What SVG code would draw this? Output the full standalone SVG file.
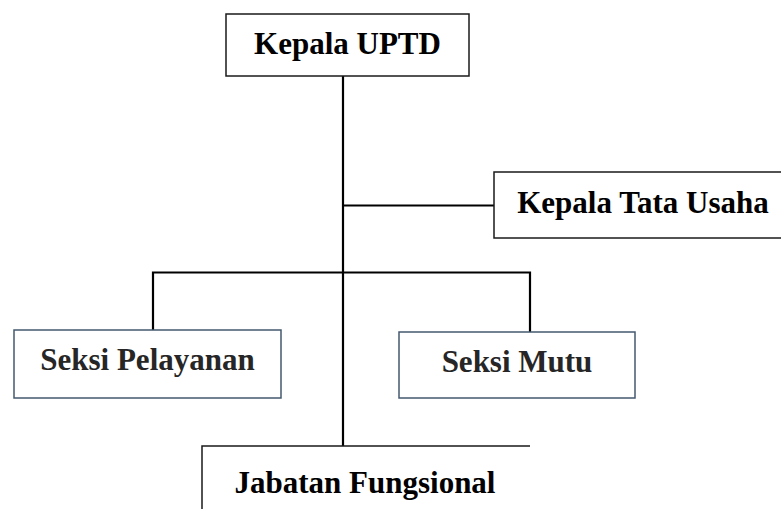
<svg xmlns="http://www.w3.org/2000/svg" width="781" height="509" viewBox="0 0 781 509">
<style>
.box{fill:#fff;stroke:#1a1a1a;stroke-width:1.5}
.sbox{fill:#fff;stroke:#44596f;stroke-width:1.5}
.t{font-family:"Liberation Serif","Times New Roman",serif;font-weight:bold;font-size:31px;fill:#000;text-anchor:middle}
.st{fill:#262626}
.c{stroke:#000;stroke-width:2.2;fill:none}
</style>
<rect width="781" height="509" fill="#fff"/>
<g id="connectors">
<line class="c" x1="343" y1="76" x2="343" y2="446"/>
<line class="c" x1="343" y1="205.5" x2="494" y2="205.5"/>
<polyline class="c" points="153,331 153,272.5 530,272.5 530,332"/>
</g>
<g id="kepala-uptd">
<rect class="box" x="226" y="14" width="243" height="62"/>
<text class="t" x="347.5" y="54">Kepala UPTD</text>
</g>
<g id="kepala-tata-usaha">
<rect class="box" x="494" y="172" width="300" height="66"/>
<text class="t" x="643" y="213">Kepala Tata Usaha</text>
</g>
<g id="seksi-pelayanan">
<rect class="sbox" x="14" y="330" width="267" height="68"/>
<text class="t st" x="147.5" y="370">Seksi Pelayanan</text>
</g>
<g id="seksi-mutu">
<rect class="sbox" x="399" y="332" width="236" height="66"/>
<text class="t st" x="517" y="372">Seksi Mutu</text>
</g>
<g id="jabatan-fungsional">
<path class="box" d="M202,510 V446 H530" fill="none"/>
<text class="t" x="365" y="493">Jabatan Fungsional</text>
</g>
</svg>
